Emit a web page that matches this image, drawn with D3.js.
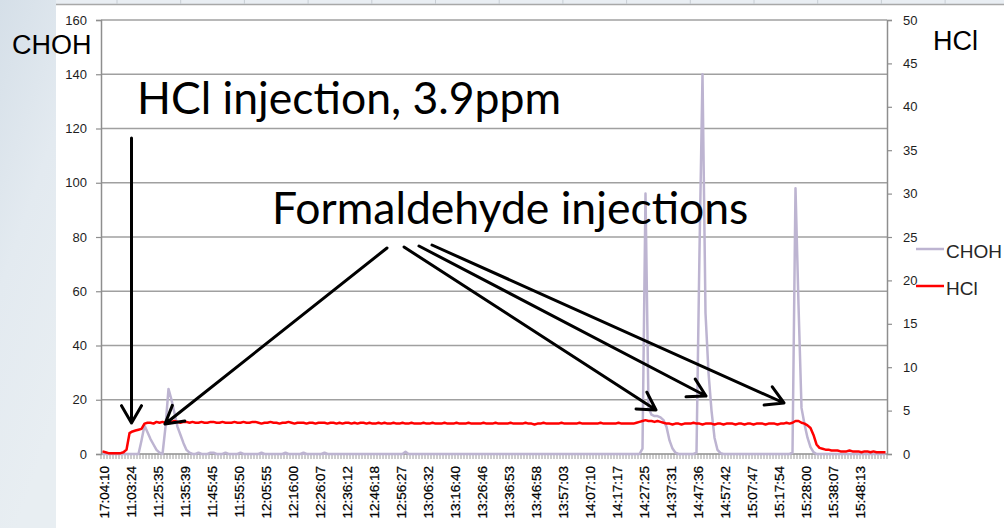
<!DOCTYPE html>
<html>
<head>
<meta charset="utf-8">
<script src="https://d3js.org/d3.v7.min.js"></script>
<style>
  html, body { margin: 0; padding: 0; background: #fff; }
  svg { display: block; font-family: "Liberation Sans", Arial, sans-serif; }
  .ann { font-family: Lato, "Open Sans", sans-serif; fill: #000; }
</style>
</head>
<body>
<svg id="chart" width="1004" height="528"></svg>
<script>
// x-axis labels, one every 9 samples
const timeLabels = ['17:04:10','11:03:24','11:25:35','11:35:39','11:45:45','11:55:50','12:05:55','12:16:00',
  '12:26:07','12:36:12','12:46:18','12:56:27','13:06:32','13:16:40','13:26:46','13:36:53','13:46:58',
  '13:57:03','14:07:10','14:17:17','14:27:25','14:37:31','14:47:36','14:57:42','15:07:47','15:17:54',
  '15:28:00','15:38:07','15:48:13'];
const labelEvery = 9;

const leftTicks = [0, 20, 40, 60, 80, 100, 120, 140, 160];
const rightTicks = [0, 5, 10, 15, 20, 25, 30, 35, 40, 45, 50];

// CHOH (left axis), one value per sample
const choh = [
  0,0,0,0,0,0,0,0,0,0,
  0,0,0,5,10.5,8,5.5,3.5,1.5,0.5,
  0,10,24,20,15,10,7,4,1.5,0.5,
  0,0,0.5,0,0,0,0.5,0.5,0,0,
  0,0.5,0,0,0,0,0.5,0,0,0,
  0,0,0,0.5,0,0,0,0,0,0,
  0,0.5,0,0,0,0,0,0.5,0,0,
  0,0,0,0,0.5,0,0,0,0,0,
  0,0,0,0,0,0,0,0,0,0,
  0,0,0,0,0,0,0,0,0,0,
  0,0.8,0,0,0,0,0,0,0,0,
  0,0,0,0,0,0,0,0,0,0,
  0,0,0,0,0,0,0,0,0,0,
  0,0,0,0,0,0,0,0,0,0,
  0,0,0,0,0,0,0,0,0,0,
  0,0,0,0,0,0,0,0,0,0,
  0,0,0,0,0,0,0,0,0,0,
  0,0,0,0,0,0,0,0,0,0,
  2,96,17,14.5,14,14,13.5,12.5,10,5,
  2,0.5,0,0,0,0,0,0,0.5,75,
  140,52,30,16,6,1.5,0.3,0,0,0,
  0,0,0,0,0,0,0,0,0,0,
  0,0,0,0,0,0,0,0,0,0,
  0.5,98,55,17,11,6,2.5,0.7,0,0,
  0,0,0,0,0,0,0,0,0,0,
  0,0,0,0,0,0,0,0,0,0,
  0,0
];

// HCl (right axis), one value per sample
const hcl = [
  0.3,0.2,0.1,0.1,0.1,0.1,0.1,0.2,0.5,2.4,
  2.6,2.7,2.8,2.9,3.5,3.6,3.6,3.5,3.7,3.6,
  3.7,3.6,3.6,3.7,3.8,3.7,3.6,3.7,3.7,3.6,
  3.7,3.6,3.6,3.7,3.6,3.6,3.7,3.7,3.6,3.6,
  3.7,3.6,3.6,3.6,3.7,3.6,3.6,3.7,3.6,3.6,
  3.7,3.7,3.6,3.5,3.6,3.6,3.7,3.6,3.6,3.5,
  3.6,3.6,3.7,3.6,3.5,3.6,3.6,3.6,3.5,3.6,
  3.6,3.5,3.6,3.6,3.6,3.5,3.6,3.6,3.5,3.6,
  3.5,3.6,3.6,3.5,3.6,3.5,3.6,3.6,3.5,3.6,
  3.5,3.5,3.6,3.5,3.6,3.5,3.5,3.6,3.5,3.5,
  3.6,3.5,3.5,3.6,3.5,3.5,3.5,3.6,3.5,3.5,
  3.6,3.5,3.5,3.5,3.6,3.5,3.5,3.5,3.6,3.5,
  3.5,3.5,3.6,3.5,3.5,3.5,3.5,3.6,3.5,3.5,
  3.5,3.6,3.5,3.5,3.5,3.5,3.6,3.5,3.5,3.5,
  3.5,3.6,3.5,3.5,3.4,3.5,3.5,3.6,3.5,3.5,
  3.5,3.5,3.5,3.6,3.5,3.5,3.5,3.5,3.5,3.6,
  3.5,3.5,3.5,3.5,3.5,3.5,3.6,3.5,3.5,3.5,
  3.5,3.5,3.6,3.5,3.5,3.5,3.5,3.5,3.6,3.7,
  3.8,3.9,3.8,3.8,3.7,3.8,3.7,3.6,3.5,3.5,
  3.4,3.5,3.5,3.4,3.5,3.5,3.5,3.6,3.5,3.5,
  3.4,3.5,3.5,3.5,3.4,3.5,3.5,3.4,3.5,3.5,
  3.5,3.4,3.5,3.5,3.4,3.5,3.5,3.4,3.5,3.5,
  3.5,3.4,3.5,3.5,3.5,3.4,3.5,3.5,3.6,3.5,
  3.6,3.8,3.8,3.6,3.5,3.3,3.0,2.2,1.1,0.7,
  0.6,0.5,0.5,0.4,0.4,0.4,0.3,0.3,0.3,0.4,
  0.3,0.3,0.3,0.2,0.3,0.3,0.2,0.3,0.2,0.2,
  0.2,0.2
];

// annotation arrows: [fromX, fromY, toX, toY]
const arrows = [
  [131.5, 138, 131.5, 423],
  [387, 248, 165, 424],
  [404, 247, 656, 410],
  [419, 246, 706, 396],
  [432, 245, 784, 403]
];

const svg = d3.select('#chart');
const margin = { left: 101, right: 887, top: 20, bottom: 454 };

// slide background
const defs = svg.append('defs');
const grad = defs.append('linearGradient').attr('id', 'bg').attr('x1', 0).attr('y1', 0).attr('x2', 0.3).attr('y2', 1);
grad.append('stop').attr('offset', 0).attr('stop-color', '#d5dfe8');
grad.append('stop').attr('offset', 0.5).attr('stop-color', '#e3eaf0');
grad.append('stop').attr('offset', 1).attr('stop-color', '#e8eef2');
svg.append('rect').attr('width', 1004).attr('height', 528).attr('fill', '#fff');
svg.append('rect').attr('width', 56).attr('height', 528).attr('fill', 'url(#bg)');
svg.append('rect').attr('x', 56).attr('width', 948).attr('height', 4).attr('fill', '#e9eef3');
svg.append('line').attr('x1', 56).attr('x2', 1004).attr('y1', 4.5).attr('y2', 4.5)
  .attr('stroke', '#a8a8a8').attr('stroke-width', 1.5);
svg.append('g').selectAll('line').data(d3.range(117, 1004, 63.7)).join('line')
  .attr('x1', d => d).attr('x2', d => d).attr('y1', 0).attr('y2', 4)
  .attr('stroke', '#c8ced4');

// scales
const x = d3.scaleBand().domain(d3.range(choh.length)).range([margin.left, margin.right]);
const yL = d3.scaleLinear().domain([0, 160]).range([margin.bottom, margin.top]);
const yR = d3.scaleLinear().domain([0, 50]).range([margin.bottom, margin.top]);
const cx = i => x(i) + x.bandwidth() / 2;

// gridlines
svg.append('g').selectAll('line').data(leftTicks.slice(1)).join('line')
  .attr('x1', margin.left).attr('x2', margin.right)
  .attr('y1', d => yL(d)).attr('y2', d => yL(d))
  .attr('stroke', '#a0a0a0').attr('stroke-width', 1.5);

// left axis
const gL = svg.append('g').attr('transform', `translate(${margin.left},0)`)
  .call(d3.axisLeft(yL).tickValues(leftTicks).tickSize(5).tickPadding(9));
// right axis
const gR = svg.append('g').attr('transform', `translate(${margin.right},0)`)
  .call(d3.axisRight(yR).tickValues(rightTicks).tickSize(5).tickPadding(11));
[gL, gR].forEach(g => {
  g.select('.domain').attr('stroke', '#8e8e8e').attr('stroke-width', 1.5);
  g.selectAll('.tick line').attr('stroke', '#8e8e8e').attr('stroke-width', 1.2);
  g.selectAll('.tick text').attr('fill', '#1e1e1e').attr('font-size', 13)
    .attr('font-family', '"Liberation Sans", Arial, sans-serif');
});

// x axis: line, ticks between every sample, rotated labels
const gX = svg.append('g');
gX.append('line').attr('x1', margin.left).attr('x2', margin.right)
  .attr('y1', margin.bottom).attr('y2', margin.bottom)
  .attr('stroke', '#8e8e8e').attr('stroke-width', 1.5);
gX.selectAll('line.tk').data(d3.range(choh.length + 1)).join('line').attr('class', 'tk')
  .attr('x1', i => margin.left + i * x.step()).attr('x2', i => margin.left + i * x.step())
  .attr('y1', margin.bottom).attr('y2', margin.bottom + 5)
  .attr('stroke', '#9a9a9a').attr('stroke-width', 1);
gX.selectAll('text').data(timeLabels).join('text')
  .attr('transform', (d, i) => `translate(${cx(i * labelEvery) + 2},${margin.bottom + 12}) rotate(-90)`)
  .attr('text-anchor', 'end').attr('dy', '0.35em')
  .attr('font-size', 13.5).attr('fill', '#000')
  .attr('stroke', '#000').attr('stroke-width', 0.25)
  .text(d => d);

// series
const lineL = d3.line().x((d, i) => cx(i)).y(d => yL(d));
const lineR = d3.line().x((d, i) => cx(i)).y(d => yR(d));
svg.append('path').datum(choh).attr('d', lineL).attr('fill', 'none')
  .attr('stroke', '#bdb4d1').attr('stroke-width', 2.5).attr('stroke-linejoin', 'round');
svg.append('path').datum(hcl).attr('d', lineR).attr('fill', 'none')
  .attr('stroke', '#ff0000').attr('stroke-width', 2.5).attr('stroke-linejoin', 'round');

// axis titles
svg.append('text').attr('x', 12).attr('y', 54).attr('font-size', 27).attr('fill', '#000').text('CHOH');
svg.append('text').attr('x', 933).attr('y', 50).attr('font-size', 27).attr('fill', '#000').text('HCl');

// legend
const legend = [
  { name: 'CHOH', color: '#bdb4d1', y: 249 },
  { name: 'HCl', color: '#ff0000', y: 286 }
];
const lg = svg.append('g').selectAll('g').data(legend).join('g');
lg.append('line').attr('x1', 916).attr('x2', 944).attr('y1', d => d.y).attr('y2', d => d.y)
  .attr('stroke', d => d.color).attr('stroke-width', 2.5);
lg.append('text').attr('x', 946).attr('y', d => d.y + 9).attr('font-size', 19)
  .attr('fill', '#262626').text(d => d.name);

// annotations
svg.append('text').attr('class', 'ann').attr('x', 137).attr('y', 114).attr('font-size', 44.5)
  .text('HCl injection, 3.9ppm');
svg.append('text').attr('class', 'ann').attr('x', 272).attr('y', 224).attr('font-size', 44.5)
  .text('Formaldehyde injections');

const headLen = 20, headAng = Math.PI / 6;
const ag = svg.append('g').attr('stroke', '#000').attr('stroke-width', 3).attr('fill', 'none')
  .attr('stroke-linecap', 'round').attr('stroke-linejoin', 'round');
arrows.forEach(([x1, y1, x2, y2]) => {
  const a = Math.atan2(y2 - y1, x2 - x1);
  const p = d3.path();
  p.moveTo(x1, y1); p.lineTo(x2, y2);
  p.moveTo(x2 - headLen * Math.cos(a - headAng), y2 - headLen * Math.sin(a - headAng));
  p.lineTo(x2, y2);
  p.lineTo(x2 - headLen * Math.cos(a + headAng), y2 - headLen * Math.sin(a + headAng));
  ag.append('path').attr('d', p.toString());
});
</script>
</body>
</html>
